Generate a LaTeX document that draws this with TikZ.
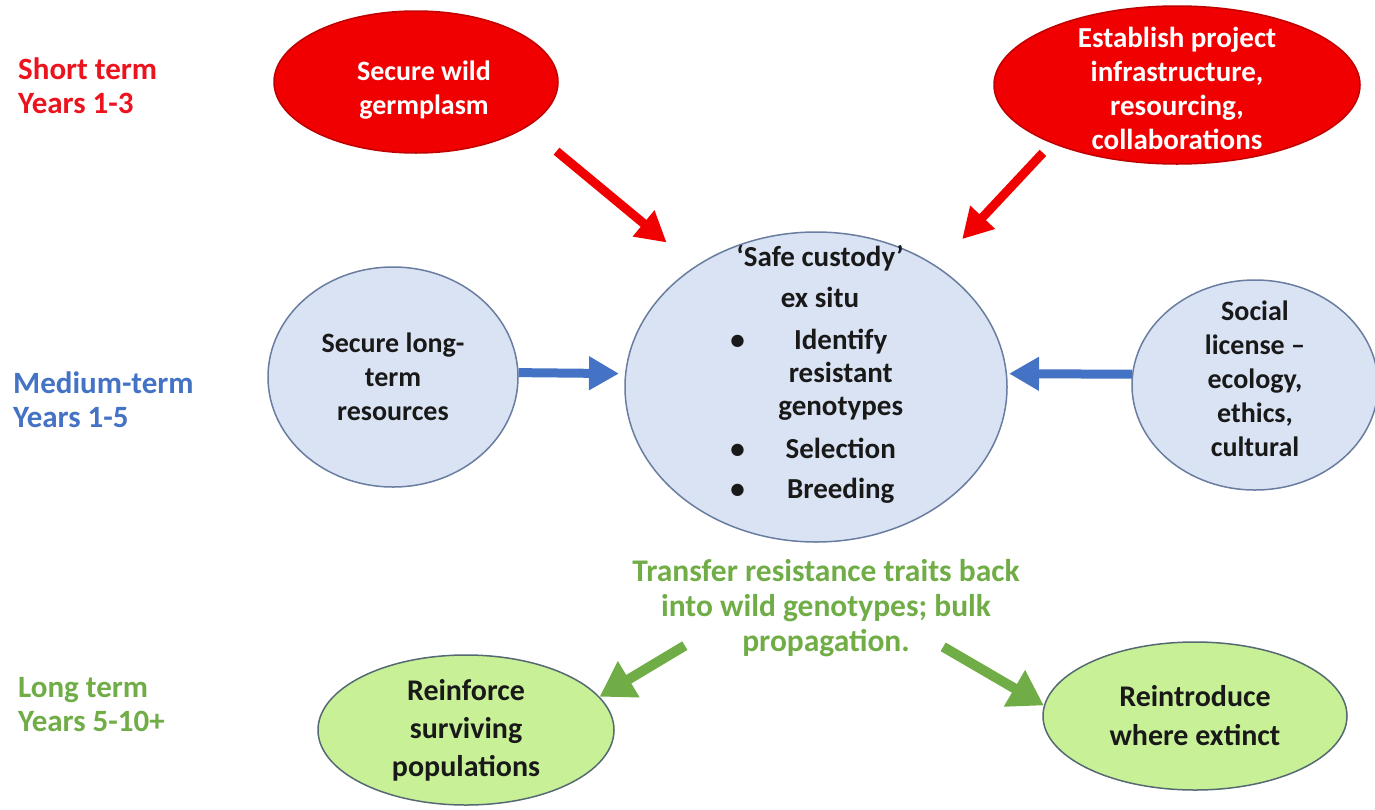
\documentclass[tikz,border=0pt]{standalone}
\usepackage{fontspec}
\setmainfont{Carlito}
\usetikzlibrary{shapes.geometric,arrows.meta}

\definecolor{bubred}{RGB}{240,0,0}
\definecolor{edgered}{RGB}{190,0,0}
\definecolor{bubblue}{RGB}{218,227,243}
\definecolor{edgeblue}{RGB}{105,125,160}
\definecolor{bubgreen}{RGB}{200,240,150}
\definecolor{edgegreen}{RGB}{85,105,115}
\definecolor{termred}{RGB}{235,20,30}
\definecolor{termblue}{RGB}{68,114,196}
\definecolor{termgreen}{RGB}{112,173,71}
\definecolor{textdark}{RGB}{25,25,25}

\tikzset{
  bubble/.style={ellipse, line width=1.5pt, inner sep=0pt},
  redbub/.style={bubble, draw=edgered, fill=bubred},
  bluebub/.style={bubble, draw=edgeblue, fill=bubblue},
  greenbub/.style={bubble, draw=edgegreen, fill=bubgreen},
  bubtext/.style={align=center, inner sep=0pt, font=\bfseries\fontsize{28}{34}\selectfont},
  termlbl/.style={anchor=west, align=left, inner sep=0pt, font=\bfseries\fontsize{31}{34}\selectfont},
  bigarrow/.style={line width=9pt, -{Triangle[length=30pt,width=32pt]}},
  greenarrow/.style={line width=10pt, draw=termgreen, -{Triangle[length=34pt,width=40pt]}},
}

\begin{document}
\begin{tikzpicture}[x=1pt,y=-1pt]
  \useasboundingbox (0,0) rectangle (1375,809);

  % Time frames
  \node[termlbl, text=termred] (short) at (18,86) {Short term\\Years 1-3};
  \node[termlbl, text=termblue] (medium) at (13,400) {Medium-term\\Years 1-5};
  \node[termlbl, text=termgreen] (long) at (18,705) {Long term\\Years 5-10+};

  % Short term bubbles
  \node[redbub, minimum width=284pt, minimum height=142pt,
    label={[bubtext, text=white, xshift=8pt, yshift=-8pt]center:{Secure wild\\germplasm}}] (germ) at (416,82) {};
  \node[redbub, minimum width=366pt, minimum height=158pt,
    label={[bubtext, text=white, yshift=-3pt, font=\bfseries\fontsize{29}{34}\selectfont]center:{Establish project\\infrastructure,\\resourcing,\\collaborations}}] (infra) at (1177,85) {};

  % Safe custody
  \node[bluebub, minimum width=382pt, minimum height=310pt] (custody) at (816,387) {};
  \node[bubtext, text=textdark, font=\bfseries\fontsize{29}{33}\selectfont] (custodytext) at (820,376) {%
    \begin{tabular}{@{}r@{\hspace{27pt}}c@{}}
      \multicolumn{2}{c}{`Safe custody'}\\[8pt]
      \multicolumn{2}{c}{ex situ}\\[9pt]
      \textbullet & Identify\\
                  & resistant\\
                  & genotypes\\[10pt]
      \textbullet & Selection\\[7pt]
      \textbullet & Breeding
    \end{tabular}};

  % Medium term bubbles
  \node[bluebub, minimum width=250pt, minimum height=220pt,
    label={[bubtext, text=textdark]center:{Secure long-\\term\\resources}}] (resources) at (393,377) {};
  \node[bluebub, minimum width=246pt, minimum height=210pt,
    label={[bubtext, text=textdark, yshift=6pt]center:{Social\\license --\\ecology,\\ethics,\\cultural}}] (social) at (1255,385) {};

  % Long term
  \node[bubtext, text=termgreen, font=\bfseries\fontsize{31.5}{35}\selectfont] (transfer) at (826,608)
    {Transfer resistance traits back\\into wild genotypes; bulk\\propagation.};
  \node[greenbub, minimum width=296pt, minimum height=150pt,
    label={[bubtext, text=textdark, font=\bfseries\fontsize{30}{38}\selectfont]center:{Reinforce\\surviving\\populations}}] (reinforce) at (466,730) {};
  \node[greenbub, minimum width=304pt, minimum height=148pt,
    label={[bubtext, text=textdark, font=\bfseries\fontsize{30}{39}\selectfont]center:{Reintroduce\\where extinct}}] (reintro) at (1195,716) {};

  % Arrows
  \draw[bigarrow, bubred, shorten <=38pt, shorten >=37pt] (germ.-22) -- (custody.135);
  \draw[bigarrow, bubred, shorten <=13pt, shorten >=37pt] (infra.205) -- (custody.45);
  \draw[bigarrow, termblue, shorten >=6pt] (resources.2) -- (custody.176);
  \draw[bigarrow, termblue, shorten >=2pt] (social.175) -- (custody.4);
  \draw[greenarrow, shorten <=-22pt] (transfer.197) -- (reinforce.14);
  \draw[greenarrow, shorten <=-20pt] (transfer.-20) -- (reintro.176);
\end{tikzpicture}
\end{document}
